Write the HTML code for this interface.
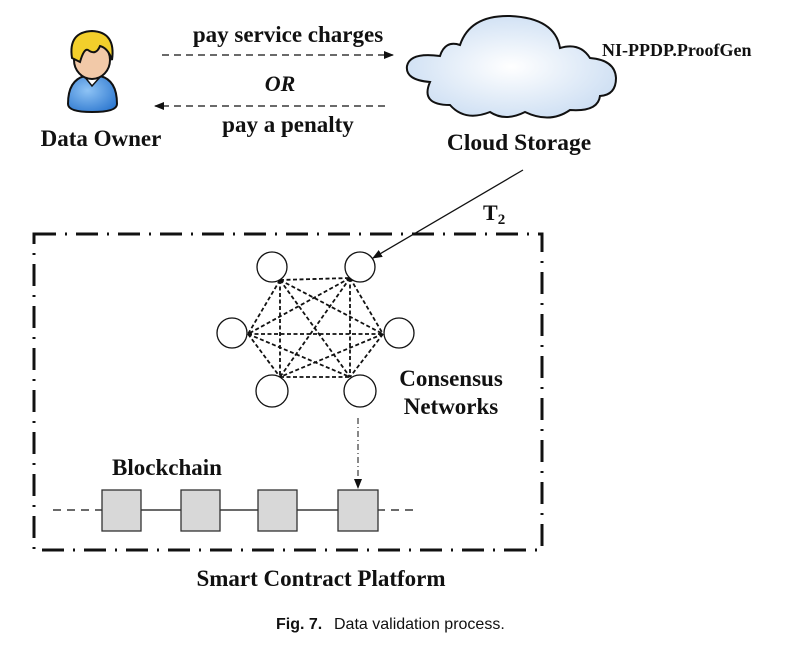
<!DOCTYPE html>
<html><head><style>
body{margin:0;background:#fff;}
svg text{font-family:"Liberation Serif",serif;font-weight:bold;fill:#111;}
</style></head><body>
<svg width="789" height="646" viewBox="0 0 789 646" xmlns="http://www.w3.org/2000/svg">
<defs>
<marker id="ah" markerWidth="10" markerHeight="8" refX="9" refY="4" orient="auto" markerUnits="userSpaceOnUse"><path d="M0,0 L10,4 L0,8 Z" fill="#111"/></marker>
<radialGradient id="cg" cx="50%" cy="50%" r="60%"><stop offset="0" stop-color="#ffffff"/><stop offset="1" stop-color="#c9dcf2"/></radialGradient>
<radialGradient id="bg" cx="40%" cy="40%" r="70%"><stop offset="0" stop-color="#8ec3f5"/><stop offset="1" stop-color="#2f79d0"/></radialGradient>
</defs>
<!-- person -->
<path d="M68,104 Q68,80 85,76 L100,76 Q117,80 117,104 Q117,112 92,112 Q68,112 68,104 Z" fill="url(#bg)" stroke="#111" stroke-width="2"/>
<path d="M84,76 L92,86 L101,76" fill="#fff" stroke="#111" stroke-width="1.5"/>
<ellipse cx="92" cy="60" rx="18" ry="19" fill="#f2c9a8" stroke="#111" stroke-width="2"/>
<path d="M72,58 Q68,32 92,31 Q116,32 112,60 Q108,48 100,46 Q96,56 88,50 Q84,48 80,62 Z" fill="#f3cf2b" stroke="#111" stroke-width="2"/>
<text x="101" y="146" font-size="23" font-weight="bold" text-anchor="middle">Data Owner</text>
<!-- arrows -->
<line x1="162" y1="55" x2="393" y2="55" stroke="#111" stroke-width="1.3" stroke-dasharray="7,5" marker-end="url(#ah)"/>
<line x1="385" y1="106" x2="155" y2="106" stroke="#111" stroke-width="1.3" stroke-dasharray="7,5" marker-end="url(#ah)"/>
<text x="288" y="42" font-size="23" font-weight="bold" text-anchor="middle">pay service charges</text>
<text x="280" y="91" font-size="22" font-weight="bold" text-anchor="middle" font-style="italic">OR</text>
<text x="288" y="132" font-size="23" font-weight="bold" text-anchor="middle">pay a penalty</text>
<!-- cloud -->
<path d="M430,82 Q405,80 407,66 Q410,52 440,56 Q445,40 460,45 Q470,15 510,16 Q555,18 560,48 Q580,42 590,58 Q615,60 616,78 Q616,95 600,96 Q598,112 570,110 Q550,124 525,112 Q505,122 490,112 Q465,122 450,105 Q420,105 430,82 Z" fill="url(#cg)" stroke="#111" stroke-width="2"/>
<text x="519" y="150" font-size="23.5" font-weight="bold" text-anchor="middle">Cloud Storage</text>
<text x="602" y="56" font-size="18" font-weight="bold">NI-PPDP.ProofGen</text>
<!-- T2 arrow -->
<line x1="523" y1="170" x2="373" y2="258" stroke="#111" stroke-width="1.3" marker-end="url(#ah)"/>
<text x="483" y="220" font-size="22" font-weight="bold">T<tspan font-size="15" dy="4">2</tspan></text>
<!-- platform box -->
<rect x="34" y="234" width="508" height="316" fill="none" stroke="#111" stroke-width="3" stroke-dasharray="22,9,2,9"/>
<text x="321" y="586" font-size="23" font-weight="bold" text-anchor="middle">Smart Contract Platform</text>
<!-- mesh -->
<g stroke="#111" stroke-width="1.8" stroke-dasharray="4,2.5" fill="none">
<line x1="280" y1="280" x2="350" y2="278"/><line x1="280" y1="280" x2="248" y2="334"/><line x1="280" y1="280" x2="383" y2="334"/><line x1="280" y1="280" x2="280" y2="377"/><line x1="280" y1="280" x2="350" y2="377"/>
<line x1="350" y1="278" x2="248" y2="334"/><line x1="350" y1="278" x2="383" y2="334"/><line x1="350" y1="278" x2="280" y2="377"/><line x1="350" y1="278" x2="350" y2="377"/>
<line x1="248" y1="334" x2="383" y2="334"/><line x1="248" y1="334" x2="280" y2="377"/><line x1="248" y1="334" x2="350" y2="377"/>
<line x1="383" y1="334" x2="280" y2="377"/><line x1="383" y1="334" x2="350" y2="377"/>
<line x1="280" y1="377" x2="350" y2="377"/>
</g>
<g fill="#fff" stroke="#111" stroke-width="1.3">
<circle cx="272" cy="267" r="15"/><circle cx="360" cy="267" r="15"/>
<circle cx="232" cy="333" r="15"/><circle cx="399" cy="333" r="15"/>
<circle cx="272" cy="391" r="16"/><circle cx="360" cy="391" r="16"/>
</g>
<text x="451" y="386" font-size="23" font-weight="bold" text-anchor="middle">Consensus</text>
<text x="451" y="414" font-size="23" font-weight="bold" text-anchor="middle">Networks</text>
<!-- dash-dot arrow -->
<line x1="358" y1="418" x2="358" y2="488" stroke="#111" stroke-width="1" stroke-dasharray="6,3,1,3" marker-end="url(#ah)"/>
<!-- blockchain -->
<text x="112" y="475" font-size="23" font-weight="bold">Blockchain</text>
<line x1="53" y1="510" x2="102" y2="510" stroke="#111" stroke-width="1.2" stroke-dasharray="8,6"/>
<line x1="377" y1="510" x2="415" y2="510" stroke="#111" stroke-width="1.2" stroke-dasharray="8,6"/>
<line x1="140" y1="510" x2="338" y2="510" stroke="#111" stroke-width="1.2"/>
<g fill="#d8d8d8" stroke="#333" stroke-width="1.3">
<rect x="102" y="490" width="39" height="41"/><rect x="181" y="490" width="39" height="41"/>
<rect x="258" y="490" width="39" height="41"/><rect x="338" y="490" width="40" height="41"/>
</g>
<!-- caption -->
<text x="276" y="629" font-size="16" style="font-family:'Liberation Sans',sans-serif;font-weight:bold">Fig. 7.</text>
<text x="334" y="629" font-size="16" style="font-family:'Liberation Sans',sans-serif;font-weight:normal">Data validation process.</text>
</svg>
</body></html>
